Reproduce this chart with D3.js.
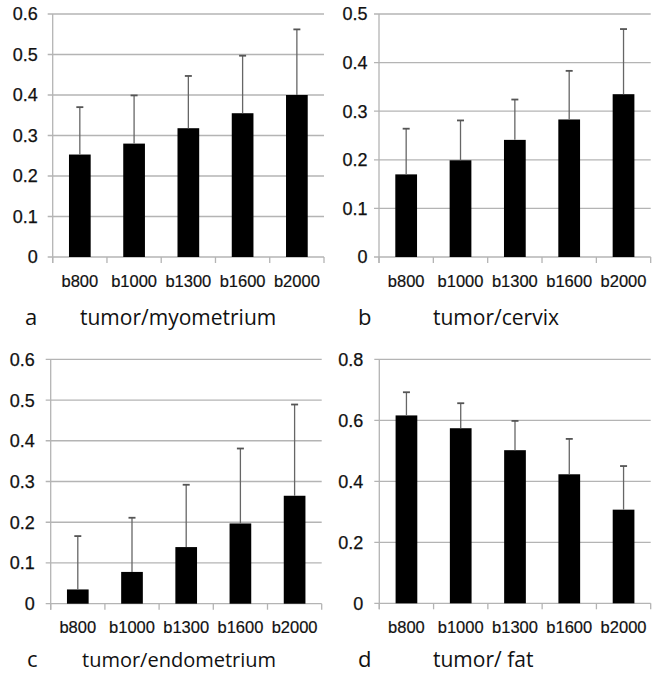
<!DOCTYPE html>
<html>
<head>
<meta charset="utf-8">
<script src="https://cdn.jsdelivr.net/npm/d3@7"></script>
<style>
  html, body { margin: 0; padding: 0; background: #fff; }
  svg { display: block; }
</style>
</head>
<body>
<script>
// ---------- data ----------
const categories = ["b800", "b1000", "b1300", "b1600", "b2000"];

const myometriumMean = [0.253, 0.280, 0.318, 0.355, 0.400];
const myometriumSD   = [0.117, 0.119, 0.129, 0.142, 0.162];

const cervixMean = [0.170, 0.199, 0.241, 0.283, 0.335];
const cervixSD   = [0.094, 0.082, 0.083, 0.100, 0.134];

const endometriumMean = [0.035, 0.078, 0.139, 0.197, 0.265];
const endometriumSD   = [0.131, 0.133, 0.153, 0.184, 0.224];

const fatMean = [0.616, 0.574, 0.502, 0.423, 0.307];
const fatSD   = [0.076, 0.082, 0.096, 0.116, 0.143];

const ticksA = [0, 0.1, 0.2, 0.3, 0.4, 0.5, 0.6];
const ticksB = [0, 0.1, 0.2, 0.3, 0.4, 0.5];
const ticksC = [0, 0.1, 0.2, 0.3, 0.4, 0.5, 0.6];
const ticksD = [0, 0.2, 0.4, 0.6, 0.8];

const panelLetters = ["a", "b", "c", "d"];
const panelTitles = ["tumor/myometrium", "tumor/cervix", "tumor/endometrium", "tumor/ fat"];

// ---------- layout ----------
const W = 661, H = 673;
const panels = [
  { mean: myometriumMean, sd: myometriumSD, ticks: ticksA,
    x0: 52.7, x1: 324, yT: 14, yB: 257, gap: 15,
    letterX: 25, titleX: 80, titleY: 325, titleSize: 21 },
  { mean: cervixMean, sd: cervixSD, ticks: ticksB,
    x0: 379, x1: 650.7, yT: 14, yB: 257, gap: 11.5,
    letterX: 358, titleX: 433, titleY: 325, titleSize: 21 },
  { mean: endometriumMean, sd: endometriumSD, ticks: ticksC,
    x0: 50.7, x1: 321.7, yT: 359.3, yB: 603.7, gap: 16,
    letterX: 27, titleX: 82, titleY: 667, titleSize: 20 },
  { mean: fatMean, sd: fatSD, ticks: ticksD,
    x0: 379.3, x1: 650.7, yT: 359.3, yB: 603.3, gap: 16,
    letterX: 358, titleX: 433, titleY: 667, titleSize: 21 }
];

const svg = d3.select("body").append("svg")
  .attr("width", W).attr("height", H);

const gridColor = "#b4b4b4";
const tickFont = "'Liberation Sans', Arial, sans-serif";
const titleFont = "'Open Sans', 'Noto Sans', sans-serif";

panels.forEach((p, i) => {
  const g = svg.append("g");
  const yMax = p.ticks[p.ticks.length - 1];
  const y = d3.scaleLinear().domain([0, yMax]).range([p.yB, p.yT]);
  const x = d3.scaleBand().domain(categories).range([p.x0, p.x1])
    .paddingInner(0.6).paddingOuter(0.3);
  const step = x.step();

  // horizontal gridlines with small outward ticks
  g.selectAll("line.grid").data(p.ticks).enter().append("line")
    .attr("class", "grid")
    .attr("x1", p.x0 - 5).attr("x2", p.x1)
    .attr("y1", d => y(d)).attr("y2", d => y(d))
    .attr("stroke", gridColor).attr("stroke-width", 1.3);

  // y axis line
  g.append("line")
    .attr("x1", p.x0).attr("x2", p.x0)
    .attr("y1", y(yMax)).attr("y2", p.yB + 6)
    .attr("stroke", gridColor).attr("stroke-width", 1.3);

  // x axis category boundary ticks
  d3.range(categories.length + 1).forEach(k => {
    g.append("line")
      .attr("x1", p.x0 + k * step).attr("x2", p.x0 + k * step)
      .attr("y1", p.yB).attr("y2", p.yB + 6)
      .attr("stroke", gridColor).attr("stroke-width", 1.3);
  });

  // y tick labels
  g.selectAll("text.ytick").data(p.ticks).enter().append("text")
    .attr("class", "ytick")
    .attr("x", p.x0 - p.gap).attr("y", d => y(d))
    .attr("dy", "0.36em")
    .attr("text-anchor", "end")
    .attr("font-family", tickFont).attr("font-size", 18)
    .attr("fill", "#111").attr("stroke", "#111").attr("stroke-width", 0.25)
    .text(d => d === 0 ? "0" : d3.format(".1f")(d));

  // x labels
  g.selectAll("text.xtick").data(categories).enter().append("text")
    .attr("class", "xtick")
    .attr("x", d => x(d) + x.bandwidth() / 2)
    .attr("y", p.yB + 29.5)
    .attr("text-anchor", "middle")
    .attr("font-family", tickFont).attr("font-size", 16.5)
    .attr("fill", "#111").attr("stroke", "#111").attr("stroke-width", 0.2)
    .text(d => d);

  // bars
  g.selectAll("rect.bar").data(categories).enter().append("rect")
    .attr("class", "bar")
    .attr("x", d => x(d))
    .attr("width", x.bandwidth())
    .attr("y", (d, k) => y(p.mean[k]))
    .attr("height", (d, k) => p.yB - y(p.mean[k]))
    .attr("fill", "#000");

  // error bars (upper only)
  g.selectAll("line.err").data(categories).enter().append("line")
    .attr("class", "err")
    .attr("x1", d => x(d) + x.bandwidth() / 2)
    .attr("x2", d => x(d) + x.bandwidth() / 2)
    .attr("y1", (d, k) => y(p.mean[k]))
    .attr("y2", (d, k) => y(p.mean[k] + p.sd[k]))
    .attr("stroke", "#666").attr("stroke-width", 1.3);
  g.selectAll("line.cap").data(categories).enter().append("line")
    .attr("class", "cap")
    .attr("x1", d => x(d) + x.bandwidth() / 2 - 3.5)
    .attr("x2", d => x(d) + x.bandwidth() / 2 + 3.5)
    .attr("y1", (d, k) => y(p.mean[k] + p.sd[k]))
    .attr("y2", (d, k) => y(p.mean[k] + p.sd[k]))
    .attr("stroke", "#555").attr("stroke-width", 1.8);

  // panel letter and title
  g.append("text")
    .attr("x", p.letterX).attr("y", p.titleY)
    .attr("font-family", titleFont).attr("font-size", 22)
    .attr("fill", "#111")
    .text(panelLetters[i]);
  g.append("text")
    .attr("x", p.titleX).attr("y", p.titleY)
    .attr("font-family", titleFont).attr("font-size", p.titleSize)
    .attr("fill", "#111")
    .text(panelTitles[i]);
});
</script>
</body>
</html>
